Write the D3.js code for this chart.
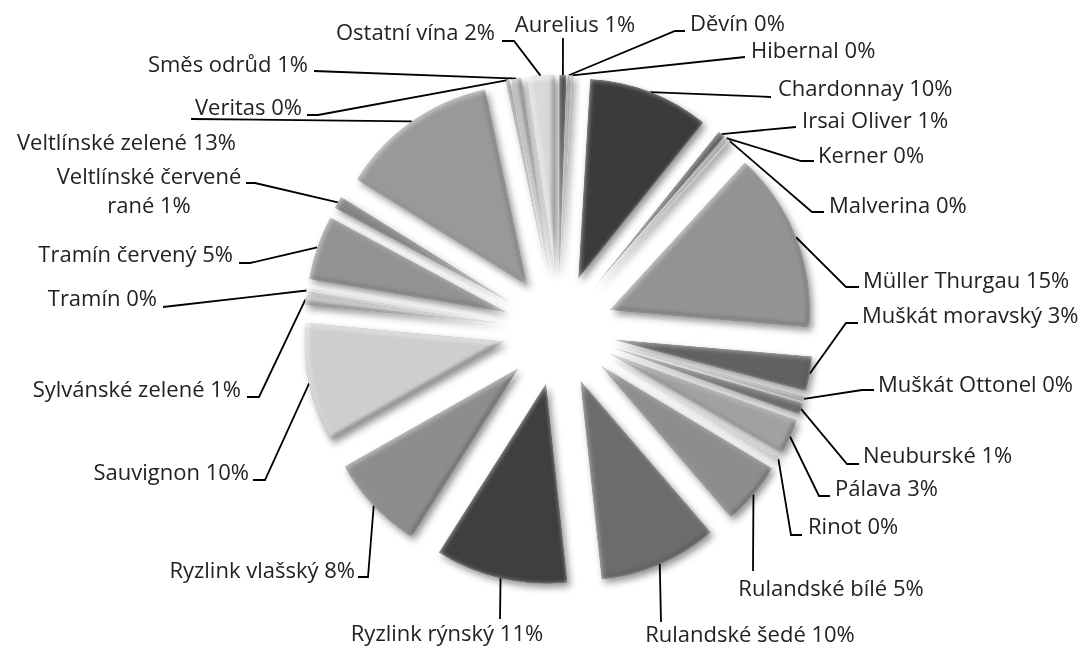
<!DOCTYPE html>
<html>
<head>
<meta charset="utf-8">
<script src="https://cdn.jsdelivr.net/npm/d3@7"></script>
<style>
  body { margin: 0; background: #fff; }
  text { font-family: 'Open Sans', sans-serif; font-size: 22px; fill: #222; }
</style>
</head>
<body>
<div id="chart"></div>
<script>
// Data: wine varieties and their share (percent of plantings)

let varieties = [
  'Aurelius', 'Děvín', 'Hibernal', 'Chardonnay', 'Irsai Oliver', 'Kerner',
  'Malverina', 'Müller Thurgau', 'Muškát moravský', 'Muškát Ottonel',
  'Neuburské', 'Pálava', 'Rinot', 'Rulandské bílé', 'Rulandské šedé',
  'Ryzlink rýnský', 'Ryzlink vlašský', 'Sauvignon', 'Sylvánské zelené',
  'Tramín', 'Tramín červený', 'Veltlínské červené rané', 'Veltlínské zelené',
  'Veritas', 'Směs odrůd', 'Ostatní vína'
]

let shares = [
  0.55, 0.2, 0.2, 9.8, 0.6, 0.2,
  0.25, 14.55, 2.8, 0.4,
  0.9, 2.85, 0.3, 5.1, 9.6,
  10.7, 7.8, 9.7, 0.8,
  0.35, 5.2, 1.0, 12.8,
  0.3, 0.8, 2.25
]

// Styles and label placement (kept apart from the data)

let sliceColors = [
  '#3d3d3d', '#6f6f6f', '#8c8c8c', '#3a3b3c', '#5e5e5e', '#7d7d7d',
  '#a3a3a3', '#949494', '#626262', '#9c9c9c',
  '#6c6c6c', '#a2a2a2', '#bdbdbd', '#8e8e8e', '#6c6c6c',
  '#3f3f3f', '#8d8d8d', '#cfcfcf', '#b8b8b8',
  '#d4d4d4', '#939393', '#858585', '#9a9a9a',
  '#8a8a8a', '#b3b3b3', '#dadada'
]

// text anchor point, leader end point and the length of the short elbow
let labelLayout = [
  { x: 575, y: 32, anchor: 'middle', lx: 563, ly: 38, elbow: 0 },
  { x: 690, y: 31, anchor: 'start', lx: 685, ly: 31, elbow: 10 },
  { x: 751, y: 58, anchor: 'start', lx: 745, ly: 57, elbow: 0 },
  { x: 778, y: 96, anchor: 'start', lx: 771, ly: 97, elbow: 0 },
  { x: 802, y: 128, anchor: 'start', lx: 796, ly: 127, elbow: 0 },
  { x: 818, y: 163, anchor: 'start', lx: 814, ly: 161, elbow: 13 },
  { x: 829, y: 213, anchor: 'start', lx: 824, ly: 212, elbow: 12 },
  { x: 863, y: 288, anchor: 'start', lx: 859, ly: 287, elbow: 13 },
  { x: 862, y: 323, anchor: 'start', lx: 858, ly: 323, elbow: 12 },
  { x: 878, y: 392, anchor: 'start', lx: 874, ly: 390, elbow: 12 },
  { x: 863, y: 463, anchor: 'start', lx: 859, ly: 464, elbow: 12 },
  { x: 835, y: 496, anchor: 'start', lx: 830, ly: 496, elbow: 11 },
  { x: 808, y: 534, anchor: 'start', lx: 802, ly: 535, elbow: 11 },
  { x: 831, y: 596, anchor: 'middle', lx: 753, ly: 571, elbow: 0 },
  { x: 750, y: 642, anchor: 'middle', lx: 661, ly: 622, elbow: 0 },
  { x: 447, y: 641, anchor: 'middle', lx: 500, ly: 619, elbow: 0 },
  { x: 355, y: 578, anchor: 'end', lx: 358, ly: 577, elbow: -10 },
  { x: 249, y: 480, anchor: 'end', lx: 253, ly: 480, elbow: -12 },
  { x: 241, y: 397, anchor: 'end', lx: 247, ly: 397, elbow: -12 },
  { x: 157, y: 306, anchor: 'end', lx: 163, ly: 307, elbow: 0 },
  { x: 233, y: 262, anchor: 'end', lx: 239, ly: 263, elbow: -11 },
  { x: 149, y: 184, anchor: 'middle', lx: 246, ly: 183, elbow: -9, wrap: 2 },
  { x: 236, y: 150, anchor: 'end', lx: 191, ly: 119, elbow: 0 },
  { x: 302, y: 115, anchor: 'end', lx: 307, ly: 115, elbow: -11 },
  { x: 308, y: 72, anchor: 'end', lx: 314, ly: 71, elbow: 0 },
  { x: 495, y: 40, anchor: 'end', lx: 502, ly: 41, elbow: -12 }
]

let width = 1085
let height = 650
let cx = 558.5
let cy = 330
let radius = 200
let explode = 55

let svg = d3
  .select('#chart')
  .append('svg')
  .attr('width', width)
  .attr('height', height)

// Filters: soft drop shadow and a lit bevel on every slice

let defs = svg.append('defs')

let shadow = defs
  .append('filter')
  .attr('id', 'shadow')
  .attr('filterUnits', 'userSpaceOnUse')
  .attr('x', 0)
  .attr('y', 0)
  .attr('width', width)
  .attr('height', height)
shadow.append('feGaussianBlur').attr('in', 'SourceAlpha').attr('stdDeviation', 3.5).attr('result', 'b')
shadow.append('feOffset').attr('in', 'b').attr('dx', 3).attr('dy', 4).attr('result', 'o')
shadow.append('feFlood').attr('flood-color', '#000').attr('flood-opacity', 0.42)
shadow.append('feComposite').attr('in2', 'o').attr('operator', 'in')

let bevel = defs
  .append('filter')
  .attr('id', 'bevel')
  .attr('filterUnits', 'userSpaceOnUse')
  .attr('x', 0)
  .attr('y', 0)
  .attr('width', width)
  .attr('height', height)
  .attr('color-interpolation-filters', 'sRGB')
bevel.append('feGaussianBlur').attr('in', 'SourceAlpha').attr('stdDeviation', 2.5).attr('result', 'bump')
bevel
  .append('feDiffuseLighting')
  .attr('in', 'bump')
  .attr('surfaceScale', 2.2)
  .attr('diffuseConstant', 1)
  .attr('lighting-color', '#fff')
  .attr('result', 'diff')
  .append('feDistantLight')
  .attr('azimuth', 225)
  .attr('elevation', 65)
bevel
  .append('feComposite')
  .attr('in', 'SourceGraphic')
  .attr('in2', 'diff')
  .attr('operator', 'arithmetic')
  .attr('k1', 1.1)
  .attr('result', 'lit')
bevel
  .append('feComposite')
  .attr('in', 'lit')
  .attr('in2', 'SourceAlpha')
  .attr('operator', 'in')
  .attr('result', 'litIn')
// lighter rim just inside the edges
bevel
  .append('feComposite')
  .attr('in', 'SourceAlpha')
  .attr('in2', 'bump')
  .attr('operator', 'arithmetic')
  .attr('k2', 1)
  .attr('k3', -1)
  .attr('result', 'rimA')
bevel.append('feFlood').attr('flood-color', '#fff').attr('flood-opacity', 0.7).attr('result', 'white')
bevel
  .append('feComposite')
  .attr('in', 'white')
  .attr('in2', 'rimA')
  .attr('operator', 'in')
  .attr('result', 'rim')
let merge = bevel.append('feMerge')
merge.append('feMergeNode').attr('in', 'litIn')
merge.append('feMergeNode').attr('in', 'rim')

// Pie layout

let data = varieties.map((name, i) => ({ name: name, share: shares[i], color: sliceColors[i] }))
let total = d3.sum(shares)

let pie = d3
  .pie()
  .sort(null)
  .value(d => d.share)

let arc = d3
  .arc()
  .innerRadius(0)
  .outerRadius(radius)

let arcs = pie(data)

function offset(d, r) {
  let a = (d.startAngle + d.endAngle) / 2
  return [Math.sin(a) * r, -Math.cos(a) * r]
}

function sliceTransform(d) {
  let o = offset(d, explode)
  return `translate(${cx + o[0]},${cy + o[1]})`
}

// Leader lines

let line = d3.line()

svg
  .append('g')
  .attr('class', 'leaders')
  .selectAll('path')
  .data(arcs)
  .enter()
  .append('path')
  .attr('d', function(d, i) {
    let L = labelLayout[i]
    let o = offset(d, explode + radius)
    let pts = [[cx + o[0], cy + o[1]]]
    if (L.elbow) pts.push([L.lx - L.elbow, L.ly])
    pts.push([L.lx, L.ly])
    return line(pts)
  })
  .attr('fill', 'none')
  .attr('stroke', '#000')
  .attr('stroke-width', 1.8)

// Shadows under all slices, then the bevelled slices

svg
  .append('g')
  .attr('filter', 'url(#shadow)')
  .selectAll('path')
  .data(arcs)
  .enter()
  .append('path')
  .attr('transform', sliceTransform)
  .attr('d', arc)
  .attr('fill', '#000')

svg
  .append('g')
  .attr('class', 'slices')
  .selectAll('g')
  .data(arcs)
  .enter()
  .append('g')
  .attr('filter', 'url(#bevel)')
  .append('path')
  .attr('transform', sliceTransform)
  .attr('d', arc)
  .attr('fill', d => d.data.color)

// Labels

svg
  .append('g')
  .attr('class', 'labels')
  .selectAll('text')
  .data(arcs)
  .enter()
  .append('text')
  .attr('x', (d, i) => labelLayout[i].x)
  .attr('y', (d, i) => labelLayout[i].y)
  .attr('text-anchor', (d, i) => labelLayout[i].anchor)
  .each(function(d, i) {
    let L = labelLayout[i]
    let label = d.data.name + ' ' + Math.round((d.data.share / total) * 100) + '%'
    let t = d3.select(this)
    if (L.wrap) {
      let words = label.split(' ')
      t.append('tspan').attr('x', L.x).text(words.slice(0, L.wrap).join(' '))
      t.append('tspan')
        .attr('x', L.x)
        .attr('dy', 29)
        .text(words.slice(L.wrap).join(' '))
    } else {
      t.text(label)
    }
  })
</script>
</body>
</html>
